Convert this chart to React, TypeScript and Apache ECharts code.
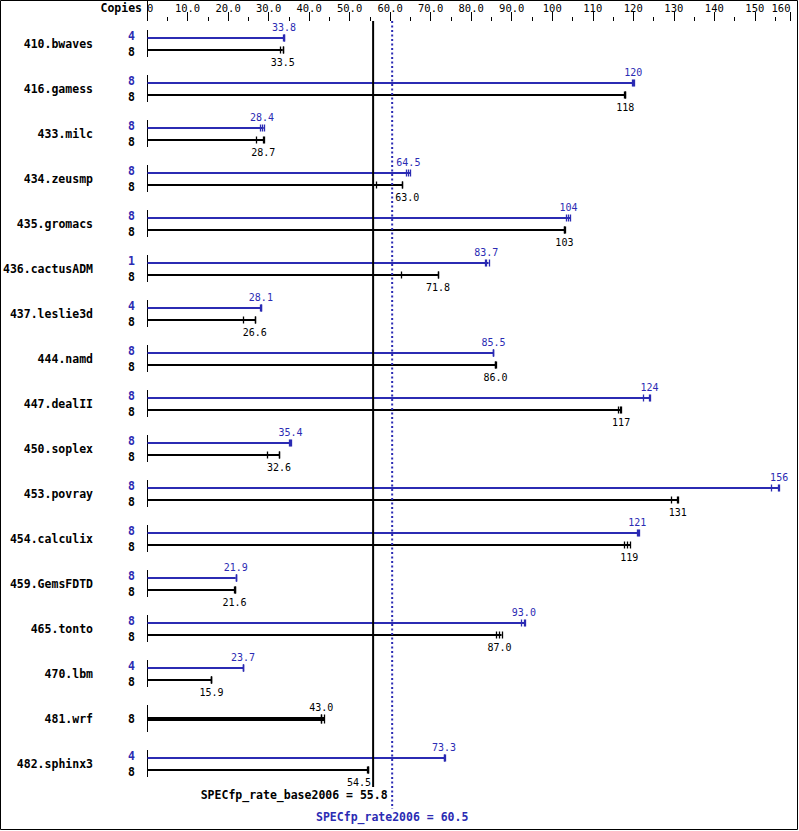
import React, { useEffect, useRef } from "react";
import * as echarts from "echarts";

const benchmarks = [
  "410.bwaves", "416.gamess", "433.milc", "434.zeusmp", "435.gromacs", "436.cactusADM",
  "437.leslie3d", "444.namd", "447.dealII", "450.soplex", "453.povray", "454.calculix",
  "459.GemsFDTD", "465.tonto", "470.lbm", "481.wrf", "482.sphinx3",
];
const peakCopies = [4, 8, 8, 8, 8, 1, 4, 8, 8, 8, 8, 8, 8, 8, 4, null, 4];
const baseCopies = [8, 8, 8, 8, 8, 8, 8, 8, 8, 8, 8, 8, 8, 8, 8, 8, 8];
const peakRatio = [33.8, 120, 28.4, 64.5, 104, 83.7, 28.1, 85.5, 124, 35.4, 156, 121, 21.9, 93.0, 23.7, null, 73.3];
const baseRatio = [33.5, 118, 28.7, 63.0, 103, 71.8, 26.6, 86.0, 117, 32.6, 131, 119, 21.6, 87.0, 15.9, 43.0, 54.5];
const peakRuns: (number[] | null)[] = [
  [33.6, 33.8, 33.8], [119.8, 120, 120.1], [27.8, 28.4, 28.8], [63.9, 64.5, 64.9],
  [103.4, 104, 104.5], [83.4, 83.7, 84.3], [28.0, 28.1, 28.1], [85.5, 85.5, 85.5],
  [122.4, 124, 124.2], [35.1, 35.4, 35.5], [154.1, 155.7, 155.9], [121.0, 121.2, 121.4],
  [21.9, 21.9, 21.9], [92.3, 93.0, 93.2], [23.7, 23.7, 23.7], null, [73.2, 73.3, 73.5],
];
const baseRuns = [
  [32.8, 33.5, 33.5], [117.8, 118, 118], [26.8, 28.7, 28.8], [56.6, 63.0, 63.0],
  [102.8, 103, 103.1], [62.8, 71.8, 71.8], [23.6, 26.6, 26.7], [85.9, 86.0, 86.2],
  [116.3, 116.8, 116.9], [29.6, 32.6, 32.6], [129.3, 130.8, 131.1], [117.6, 118.4, 119.2],
  [21.4, 21.6, 21.7], [86.2, 86.9, 87.5], [15.9, 15.9, 15.9], [42.9, 43.0, 43.7], [54.3, 54.5, 54.6],
];
const xTickLabels = ["0", "10.0", "20.0", "30.0", "40.0", "50.0", "60.0", "70.0", "80.0", "90.0",
  "100", "110", "120", "130", "140", "150", "160"];
const baseScore = 55.8;
const peakScore = 60.5;
const baseScoreLabel = "SPECfp_rate_base2006 = 55.8";
const peakScoreLabel = "SPECfp_rate2006 = 60.5";

const BLUE = "#2b2bb3";
const FONT = '"DejaVu Sans Mono", monospace';

function fmt(v: number): string {
  return v >= 100 ? v.toFixed(0) : v.toFixed(1);
}

export default function App() {
  const ref = useRef<HTMLDivElement>(null);
  useEffect(() => {
    document.body.style.margin = "0";
    const chart = echarts.init(ref.current!, null, { renderer: "svg" });

    const rowItem = (params: any, api: any) => {
      const i = params.dataIndex;
      const c = api.coord([0, i]);
      const x0 = Math.round(c[0]) + 0.5;
      const yc = c[1];
      const lineXs = [api.coord([baseScore, i])[0], api.coord([peakScore, i])[0]];
      const children: any[] = [];
      const hasPeak = peakRatio[i] != null;
      children.push({
        type: "line",
        shape: { x1: x0, y1: yc - 13.5, x2: x0, y2: yc + 13.5 },
        style: { stroke: "#000", lineWidth: 1 },
      });
      const drawBar = (y: number, runs: number[], val: number, color: string, lw: number,
        copies: number, labelDy: number, copiesDy: number) => {
        const xs = runs.map((v) => api.coord([v, i])[0]);
        const xmax = Math.max(...xs);
        children.push({
          type: "line",
          shape: { x1: x0, y1: y, x2: xmax, y2: y },
          style: { stroke: color, lineWidth: lw },
        });
        xs.forEach((x) => {
          const xr = Math.round(x) + 0.5;
          children.push({
            type: "line",
            shape: { x1: xr, y1: y - 3.5 - (lw > 3 ? 1 : 0), x2: xr, y2: y + 3.5 + (lw > 3 ? 1 : 0) },
            style: { stroke: color, lineWidth: 1.3 },
          });
        });
        const txt = fmt(val);
        const w = txt.length * 6.02;
        let lx = api.coord([val, i])[0];
        let align = "center";
        for (const L of lineXs) {
          if (lx - w / 2 < L + 2 && lx + w / 2 > L - 2) {
            if (lx < L) { lx = L - 2; align = "right"; } else { lx = L + 3; align = "left"; }
            break;
          }
        }
        children.push({
          type: "text",
          x: lx,
          y: y + labelDy,
          style: {
            text: txt, fill: color, font: `10px ${FONT}`,
            textAlign: align, textVerticalAlign: "middle",
          },
        });
        children.push({
          type: "text",
          x: x0 - 16,
          y: y + copiesDy,
          style: {
            text: String(copies), fill: color, font: `bold 11.5px ${FONT}`,
            textAlign: "center", textVerticalAlign: "middle",
          },
        });
      };
      if (hasPeak) {
        const yP = Math.round(yc - 6);
        const yB = Math.round(yc + 6.5);
        drawBar(yP, peakRuns[i]!, peakRatio[i]!, BLUE, 2, peakCopies[i]!, -10.5, -2.5);
        drawBar(yB, baseRuns[i], baseRatio[i], "#000", 2, baseCopies[i], 12, 2);
      } else {
        const yB = Math.round(yc);
        drawBar(yB, baseRuns[i], baseRatio[i], "#000", 4, baseCopies[i], -12, 0);
      }
      return { type: "group", children };
    };

    const refItem = (params: any, api: any) => {
      const xb = api.coord([baseScore, 0])[0];
      const xp = api.coord([peakScore, 0])[0];
      const x0 = Math.round(api.coord([0, 0])[0]) + 0.5;
      return {
        type: "group",
        children: [
          { type: "line", shape: { x1: x0, y1: 1, x2: x0, y2: 21 }, style: { stroke: "#000", lineWidth: 1 } },
          { type: "line", shape: { x1: xb, y1: 21, x2: xb, y2: 787 }, style: { stroke: "#000", lineWidth: 2 } },
          {
            type: "line", shape: { x1: xp, y1: 21, x2: xp, y2: 809 },
            style: { stroke: BLUE, lineWidth: 2, lineDash: [2, 2.5] },
          },
          {
            type: "text", x: xb + 14.5, y: 795,
            style: { text: baseScoreLabel, fill: "#000", font: `bold 11.5px ${FONT}`, textAlign: "right", textVerticalAlign: "middle" },
          },
          {
            type: "text", x: xp, y: 817,
            style: { text: peakScoreLabel, fill: BLUE, font: `bold 11.5px ${FONT}`, textAlign: "center", textVerticalAlign: "middle" },
          },
        ],
      };
    };

    chart.setOption({
      animation: false,
      backgroundColor: "#fff",
      grid: { left: 146.5, top: 21, width: 644, height: 765 },
      xAxis: {
        type: "value",
        position: "top",
        min: 0,
        max: 158.8,
        interval: 10,
        axisLine: { show: false },
        axisTick: { show: true, length: 9, lineStyle: { color: "#000", width: 1 } },
        minorTick: { show: true, splitNumber: 2, length: 4, lineStyle: { color: "#000", width: 1 } },
        splitLine: { show: false },
        minorSplitLine: { show: false },
        axisLabel: {
          margin: 8,
          color: "#000",
          fontFamily: FONT,
          fontSize: 10.5,
          showMinLabel: true,
          showMaxLabel: true,
          alignMinLabel: "left",
          alignMaxLabel: "right",
          formatter: (_v: number, idx: number) => xTickLabels[idx] ?? "",
        },
      },
      yAxis: {
        type: "category",
        inverse: true,
        data: benchmarks,
        axisLine: { show: false },
        axisTick: { show: false },
        splitLine: { show: false },
        axisLabel: {
          margin: 54,
          color: "#000",
          fontFamily: FONT,
          fontSize: 11.5,
          fontWeight: "bold",
          interval: 0,
        },
      },
      graphic: [
        {
          type: "rect",
          shape: { x: 0.5, y: 0.5, width: 797, height: 829 },
          style: { fill: "none", stroke: "#000", lineWidth: 1 },
          silent: true,
        },
        {
          type: "text",
          x: 142,
          y: 8,
          style: { text: "Copies", fill: "#000", font: `bold 11.5px ${FONT}`, textAlign: "right", textVerticalAlign: "middle" },
        },
      ],
      series: [
        {
          type: "custom",
          renderItem: rowItem,
          data: benchmarks.map((_, i) => [0, i]),
          encode: { x: 0, y: 1 },
          clip: false,
          silent: true,
        },
        {
          type: "custom",
          renderItem: refItem,
          data: [[0, 0]],
          encode: { x: 0, y: 1 },
          clip: false,
          silent: true,
        },
      ],
    });
    return () => chart.dispose();
  }, []);
  return <div ref={ref} style={{ width: 799, height: 831 }} />;
}
